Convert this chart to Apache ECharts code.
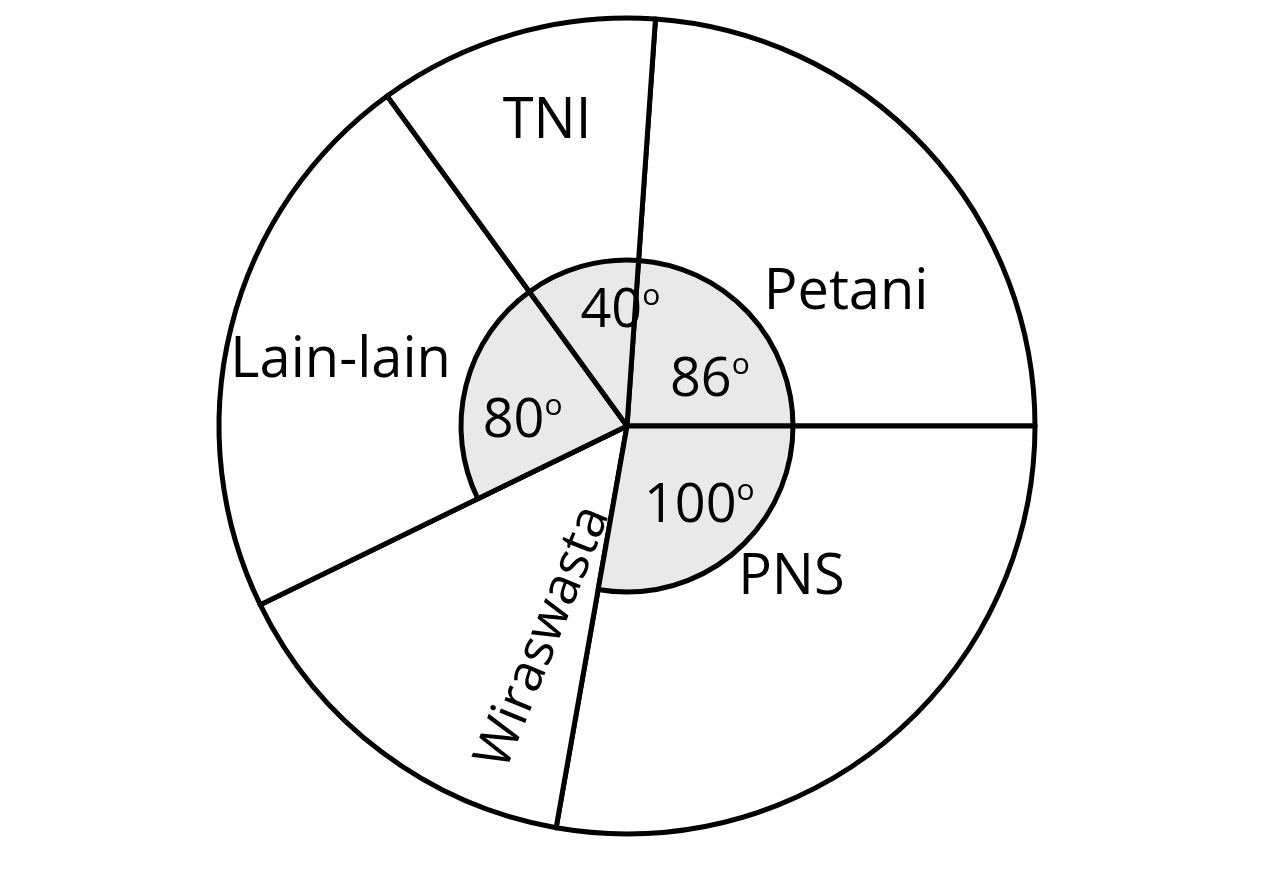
<!DOCTYPE html>
<html>
<head>
<meta charset="utf-8">
<script src="https://cdn.jsdelivr.net/npm/echarts@6/dist/echarts.min.js"></script>
<style>
html,body{margin:0;padding:0;background:#fff;}
#chart{width:1280px;height:871px;}
</style>
</head>
<body>
<div id="chart"></div>
<script>
// Categories in clockwise order, starting at the TNI/Petani boundary
const categories = ['Petani', 'PNS', 'Wiraswasta', 'Lain-lain', 'TNI'];
// Central angles (degrees) as written in the chart; Wiraswasta is unlabeled (remainder)
const degrees = [86, 100, 54, 80, 40];
// Degree labels shown in the shaded inner circle ('' = no label / no shaded sector)
const degreeLabels = ['86', '100', '', '80', '40'];

const FONT = '"Open Sans", "Noto Sans", sans-serif';
const chart = echarts.init(document.getElementById('chart'));

// label nudges (style only; rotated label uses its own rotated frame)
const outerNudge = [[7, 65], [-22, -70], [53, 77], [-5, 5], [0, -25]];
const innerNudge = [[20, 13], [17, 15], [0, 0], [-21, 16], [17, -32]];

const CENTER = [627, 426];
const START = 86;

const baseData = categories.map((c, i) => ({ name: c, value: degrees[i] }));

const labelData = categories.map((c, i) => {
  const item = { name: c, value: degrees[i] };
  if (c === 'Wiraswasta') item.label = { rotate: 68, fontSize: 52 };
  return item;
});

const innerData = categories.map((c, i) => {
  const shaded = degreeLabels[i] !== '';
  return {
    name: c,
    value: degrees[i],
    itemStyle: shaded ? {} : { color: 'rgba(0,0,0,0)', borderWidth: 0 },
    label: { show: shaded, formatter: '{n|' + degreeLabels[i] + '}{d|o}' }
  };
});

chart.setOption({
  backgroundColor: '#ffffff',
  animation: false,
  series: [
    {
      // full white pie with slice outlines
      type: 'pie',
      center: CENTER,
      radius: [0, 408],
      startAngle: START,
      clockwise: true,
      silent: true,
      itemStyle: { color: '#ffffff', borderColor: '#000000', borderWidth: 5 },
      label: { show: false },
      labelLine: { show: false },
      emphasis: { disabled: true },
      data: baseData
    },
    {
      // shaded inner circle with degree labels
      type: 'pie',
      center: CENTER,
      radius: [0, 166],
      startAngle: START,
      clockwise: true,
      silent: true,
      itemStyle: { color: '#e9e9e9', borderColor: '#000000', borderWidth: 5 },
      label: {
        show: true,
        position: 'inside',
        color: '#000',
        fontFamily: FONT,
        rich: {
          n: { fontFamily: FONT, fontSize: 54, color: '#000', lineHeight: 60 },
          d: { fontFamily: FONT, fontSize: 30, color: '#000', verticalAlign: 'top', lineHeight: 30, padding: [0, 0, 24, 0] }
        }
      },
      labelLayout: function (p) {
        const n = innerNudge[p.dataIndex];
        return { dx: n[0], dy: n[1] };
      },
      labelLine: { show: false },
      emphasis: { disabled: true },
      data: innerData
    },
    {
      // category name labels in the outer ring
      type: 'pie',
      center: CENTER,
      radius: [166, 408],
      startAngle: START,
      clockwise: true,
      silent: true,
      itemStyle: { color: 'rgba(0,0,0,0)', borderWidth: 0 },
      label: {
        show: true,
        position: 'inside',
        color: '#000',
        fontFamily: FONT,
        fontSize: 56,
        formatter: '{b}'
      },
      labelLayout: function (p) {
        const n = outerNudge[p.dataIndex];
        return { dx: n[0], dy: n[1] };
      },
      labelLine: { show: false },
      emphasis: { disabled: true },
      data: labelData
    }
  ]
});
</script>
</body>
</html>
